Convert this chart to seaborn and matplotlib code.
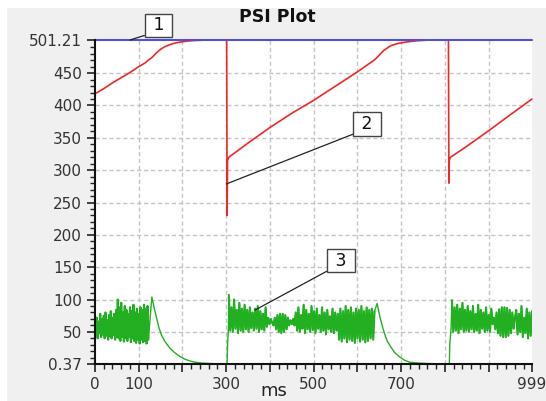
import numpy as np
import pandas as pd
import matplotlib
matplotlib.use("Agg")
import matplotlib.pyplot as plt
from matplotlib.patches import Rectangle
import seaborn as sns

# ---------------- data ----------------
title = "PSI Plot"
x_label = "ms"
x_min, x_max = 0, 999
y_min, y_max = 0.37, 501.21

x_major = [0, 100, 200, 300, 400, 500, 600, 700, 800, 900, 999]
x_labels = ["0", "100", "", "300", "", "500", "", "700", "", "", "999"]
y_major = [0.37, 50, 100, 150, 200, 250, 300, 350, 400, 450, 501.21]
y_labels = ["0.37", "50", "100", "150", "200", "250", "300", "350", "400", "450", "501.21"]

# series 1 (blue, constant)
blue_x = [0, 999]
blue_y = [501.21, 501.21]

# series 2 (red)
red_x = [0, 20, 40, 60, 80, 100, 115, 120, 130, 140, 150, 160, 175, 190, 210, 230, 250,
         301, 302, 303, 306, 350, 400, 450, 500, 550, 600, 640, 650, 660, 675, 690, 710,
         735, 760, 808, 809, 810, 813, 850, 900, 950, 999]
red_y = [418, 426, 435, 443, 451, 460, 466, 469, 474, 481, 487, 491, 495, 497.5, 499.5, 500.5, 501,
         501, 230, 315, 320, 342, 366, 388, 408, 430, 452, 471, 478, 485, 492, 495.5, 498,
         500, 501, 501, 280, 316, 320, 337, 361, 386, 410]

# series 3 (green) -- noisy bands, sampled every few ms
green_a_start, green_a_step = 0, 2
green_a = [60, 45, 72, 40, 66, 48, 78, 42, 70, 46,
           75, 40, 80, 44, 68, 38, 76, 43, 82, 40,
           72, 45, 78, 38, 84, 42, 100, 40, 88, 36,
           95, 42, 80, 35, 90, 40, 84, 36, 78, 42,
           88, 34, 82, 40, 92, 36, 80, 33, 86, 38,
           78, 32, 88, 38, 84, 34, 92, 36, 86, 32,
           90, 38]
decay_a_x = [130, 135, 141, 146, 152, 160, 171, 182, 194, 205, 217, 230, 245, 267]
decay_a_y = [104, 88, 71, 57, 45, 35, 25, 18, 12, 8, 5, 3, 1.8, 1]

rise_b_x = [302, 303, 305]
rise_b_y = [0.37, 30, 55]
green_b_start, green_b_step = 306, 3
green_b = [107, 52, 88, 50, 100, 55, 84, 48, 95, 52, 86, 50, 92,
           54, 84, 50, 88, 56, 80, 52, 86, 55, 90, 50, 82, 54, 78, 52,
           88, 58, 72, 62, 70, 64,
           60, 72, 54, 76, 50, 78, 48, 78, 50, 76, 54, 72, 60,
           68, 62, 70, 60,
           80, 52, 88, 50, 76, 55, 92, 48, 84, 54, 78, 50, 90, 53, 82, 48, 86, 55,
           76, 50, 88, 52, 80, 46, 84, 54, 74, 50, 86, 48, 80, 52, 78,
           38, 86, 35, 82, 40, 90, 34, 84, 38, 88, 36, 80, 33, 86, 40, 84, 35, 90,
           38, 82, 34, 88, 36, 84, 40, 86, 38, 82]
decay_b_x = [645, 652, 658, 663, 668, 674, 685, 697, 708, 720, 740, 760, 777]
decay_b_y = [94, 71, 56, 45, 36, 29, 18, 11, 6, 3, 1.8, 1.1, 0.8]

rise_c_x = [810, 811, 814]
rise_c_y = [0.37, 30, 55]
green_c_start, green_c_step = 816, 3
green_c = [99, 50, 88, 52, 92, 48, 86, 54, 95, 50, 84, 52, 90, 50,
           82, 54, 90, 50, 78, 52, 92, 48, 84, 55, 80, 50, 88, 52, 76, 50, 86,
           62, 72, 54, 80, 48, 85, 44, 88, 42, 88, 42, 87, 44, 84, 48, 80, 55, 72,
           84, 46, 78, 50, 90, 42, 72, 48, 86, 40, 80, 44, 82]

annotations = [("1", 80, 501.21), ("2", 300, 278.6), ("3", 366, 83.8)]
# ---------------- styling ----------------
W, H, DPI = 546, 401, 100
RED = "#f02828"
BLUE = "#5050d8"
GREEN = "#22b022"
BG = "#f0f0f0"

sns.set_style("white")
plt.rcParams["font.family"] = ["DejaVu Sans"]

fig = plt.figure(figsize=(W / DPI, H / DPI), dpi=DPI, facecolor="white")
fig.patches.append(Rectangle((7 / W, 0), 1, 1 - 8 / H, transform=fig.transFigure,
                             facecolor=BG, edgecolor="none", zorder=-10))

ax = fig.add_axes([95 / W, 37 / H, 437 / W, 324 / H])
ax.set_facecolor("white")


def seg(xs, ys, color, lw):
    df = pd.DataFrame({"ms": xs, "val": ys})
    sns.lineplot(data=df, x="ms", y="val", color=color, lw=lw, ax=ax,
                 estimator=None, sort=False)


seg(red_x, red_y, RED, 1.2)
ax.lines[-1].set_clip_on(False)
seg(blue_x, blue_y, BLUE, 1.5)
ax.lines[-1].set_clip_on(False)

ga_x = list(green_a_start + green_a_step * np.arange(len(green_a)))
gb_x = list(green_b_start + green_b_step * np.arange(len(green_b)))
gc_x = list(green_c_start + green_c_step * np.arange(len(green_c)))
# full green trace (thin)
seg(ga_x + decay_a_x, green_a + decay_a_y, GREEN, 1.0)
seg(rise_b_x + gb_x + decay_b_x, rise_b_y + green_b + decay_b_y, GREEN, 1.0)
seg(rise_c_x + gc_x, rise_c_y + green_c, GREEN, 1.0)
# dense noisy parts drawn a little heavier
seg(ga_x, green_a, GREEN, 1.5)
seg(gb_x, green_b, GREEN, 1.5)
seg(gc_x, green_c, GREEN, 1.5)

ax.set_xlim(x_min, x_max)
ax.set_ylim(y_min, y_max)
ax.set_xlabel("")
ax.set_ylabel("")

ax.set_xticks(x_major)
ax.set_xticklabels(x_labels)
ax.set_xticks([v for v in range(20, 999, 20) if v % 100 != 0], minor=True)
ax.set_yticks(y_major)
ax.set_yticklabels(y_labels)
ax.set_yticks([v for v in range(10, 500, 10) if v % 50 != 0], minor=True)

ax.tick_params(which="major", direction="out", length=6, width=1.2, color="#222222",
               labelsize=11, labelcolor="#333333", pad=3.5)
ax.tick_params(which="minor", direction="out", length=3.5, width=1.0, color="#222222")
ax.tick_params(axis="x", which="both", bottom=True)
ax.tick_params(axis="y", which="both", left=True)

ax.grid(True, which="major", color="#c4c4c4", linestyle=(0, (3, 2)), linewidth=1.0)
for gl, v in zip(ax.xaxis.get_gridlines(), x_major):
    if v in (0, 999):
        gl.set_visible(False)
for gl, v in zip(ax.yaxis.get_gridlines(), y_major):
    if v in (0.37, 501.21):
        gl.set_visible(False)

for s in ("top", "right"):
    ax.spines[s].set_visible(False)
for s in ("left", "bottom"):
    ax.spines[s].set_color("#111111")
    ax.spines[s].set_linewidth(1.5)

box_pos = {"1": (158.5, 401 - 25.5), "2": (367, 401 - 124), "3": (341, 401 - 260.5)}
for lab, xv, yv in annotations:
    ax.annotate(" " + lab + " ", xy=(xv, yv), xycoords="data",
                xytext=box_pos[lab], textcoords="figure pixels",
                ha="center", va="center", fontsize=12.5, color="#111111",
                bbox=dict(boxstyle="square,pad=0.15", fc="white", ec="#444444", lw=1.0),
                arrowprops=dict(arrowstyle="-", color="#222222", lw=0.9,
                                relpos=(0, 0), shrinkA=0, shrinkB=0),
                annotation_clip=False, zorder=5)

fig.text(277 / W, 1 - 17 / H, title, ha="center", va="center",
         fontsize=12.5, fontweight="bold", color="#111111")
fig.text(274 / W, 1 - 391 / H, x_label, ha="center", va="center",
         fontsize=13, color="#222222")

fig.savefig("out.png", dpi=DPI, facecolor=fig.get_facecolor())
